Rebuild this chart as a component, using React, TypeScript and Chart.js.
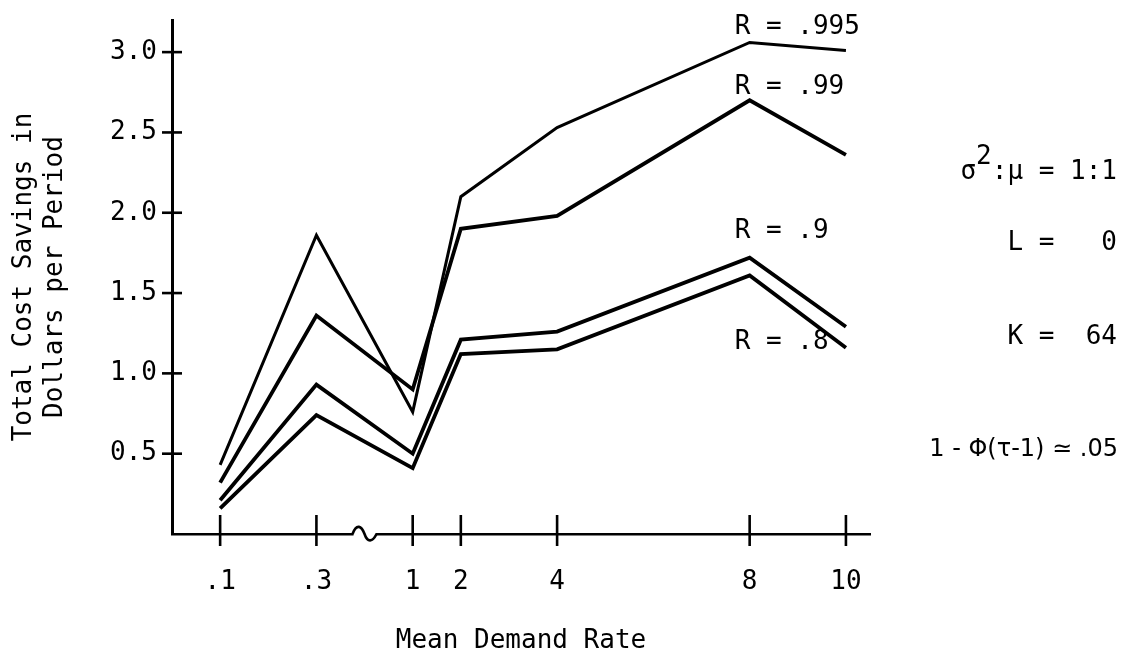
import React, { useEffect, useRef } from 'react';
import { Chart, registerables } from 'chart.js';

Chart.register(...registerables);

// ---- data ----
const demandRates = [0.1, 0.3, 1, 2, 4, 8, 10];
const demandLabels = ['.1', '.3', '1', '2', '4', '8', '10'];
const savingsR995 = [0.43, 1.86, 0.76, 2.10, 2.53, 3.06, 3.01];
const savingsR99 = [0.32, 1.36, 0.90, 1.90, 1.98, 2.70, 2.36];
const savingsR9 = [0.21, 0.93, 0.50, 1.21, 1.26, 1.72, 1.29];
const savingsR8 = [0.16, 0.74, 0.41, 1.12, 1.15, 1.61, 1.16];
const seriesNames = ['R = .995', 'R = .99', 'R = .9', 'R = .8'];
const yTickValues = [0.5, 1.0, 1.5, 2.0, 2.5, 3.0];
const yTickLabels = ['0.5', '1.0', '1.5', '2.0', '2.5', '3.0'];
const yTitle = ['Total Cost Savings in', 'Dollars per Period'];
const xTitle = 'Mean Demand Rate';
const paramLines = ['L =   0', 'K =  64', '1 - \u03A6(\u03C4-1) \u2243 .05'];

const FONT = '"DejaVu Sans Mono", monospace';

// broken axis: rates below 1 sit on their own compressed stretch left of the break
function axisPos(rate: number): number {
  return rate >= 1 ? rate : -3 + (rate - 0.1) * 10;
}

const allSeries = [savingsR995, savingsR99, savingsR9, savingsR8];

const decorPlugin = {
  id: 'decor',
  afterDraw(chart: any) {
    const { ctx, chartArea, scales } = chart;
    const xs = scales.x;
    const ys = scales.y;
    ctx.save();
    ctx.strokeStyle = '#000';
    ctx.fillStyle = '#000';
    ctx.lineWidth = 2.6;
    // crossing tick marks on y axis
    ys.ticks.forEach((t: any) => {
      const py = ys.getPixelForValue(t.value);
      ctx.beginPath();
      ctx.moveTo(chartArea.left - 10, py);
      ctx.lineTo(chartArea.left + 10, py);
      ctx.stroke();
    });
    // crossing tick marks on x axis
    xs.ticks.forEach((t: any) => {
      const px = xs.getPixelForValue(t.value);
      ctx.beginPath();
      ctx.moveTo(px, chartArea.bottom - 19);
      ctx.lineTo(px, chartArea.bottom + 12);
      ctx.stroke();
    });
    // axis break squiggle
    const bx = xs.getPixelForValue(0);
    const by = chartArea.bottom;
    ctx.fillStyle = '#fff';
    ctx.fillRect(bx - 11, by - 3, 22, 6);
    ctx.beginPath();
    ctx.moveTo(bx - 12, by);
    ctx.bezierCurveTo(bx - 8, by - 11, bx - 3, by - 8, bx, by);
    ctx.bezierCurveTo(bx + 3, by + 9, bx + 8, by + 8, bx + 12, by);
    ctx.lineWidth = 2.6;
    ctx.stroke();

    // series labels
    ctx.fillStyle = '#000';
    ctx.font = `26px ${FONT}`;
    ctx.textBaseline = 'middle';
    ctx.textAlign = 'left';
    const lx = xs.getPixelForValue(8) - 15;
    const labelVals = [3.157, 2.78, 1.887, 1.195];
    seriesNames.forEach((n, i) => {
      ctx.fillText(n, lx, ys.getPixelForValue(labelVals[i]));
    });

    // parameter annotations at the right
    const rx = 1117;
    const cw = ctx.measureText('M').width;
    const sigY = 172;
    ctx.textAlign = 'right';
    ctx.fillText(':\u03BC = 1:1', rx, sigY);
    const rest = ctx.measureText(':\u03BC = 1:1').width;
    ctx.textAlign = 'left';
    ctx.fillText('2', rx - rest - cw, sigY - 15);
    ctx.fillText('\u03C3', rx - rest - 2 * cw, sigY);
    ctx.textAlign = 'right';
    ctx.fillText(paramLines[0], rx, 243);
    ctx.fillText(paramLines[1], rx, 337);
    ctx.font = '24px "DejaVu Sans", sans-serif';
    ctx.fillText(paramLines[2], rx + 1, 450, 192);
    ctx.restore();
  },
};

export default function App() {
  const ref = useRef<HTMLCanvasElement | null>(null);
  useEffect(() => {
    document.body.style.margin = '0';
    const canvas = ref.current;
    if (!canvas) return;
    Chart.defaults.font.family = FONT;
    Chart.defaults.color = '#000';
    const datasets = allSeries.map((vals, i) => ({
      label: seriesNames[i],
      data: vals.map((v, j) => ({ x: axisPos(demandRates[j]), y: v })),
      borderColor: '#000',
      backgroundColor: '#000',
      borderWidth: i === 0 ? 3 : 3.8,
      pointRadius: 0,
      tension: 0,
      fill: false,
      borderJoinStyle: 'miter' as const,
    }));
    const chart = new Chart(canvas, {
      type: 'line',
      data: { datasets },
      options: {
        animation: false,
        responsive: false,
        devicePixelRatio: 1,
        layout: { padding: { top: 20, right: 253, left: 0, bottom: 0 } },
        plugins: { legend: { display: false }, tooltip: { enabled: false } },
        scales: {
          x: {
            type: 'linear',
            min: -4,
            max: 10.5,
            afterBuildTicks: (s: any) => {
              s.ticks = demandRates.map((r) => ({ value: axisPos(r) }));
            },
            afterFit: (s: any) => {
              s.height = 120;
              s.paddingLeft = 0;
              s.paddingRight = 0;
            },
            ticks: {
              autoSkip: false,
              maxRotation: 0,
              padding: 33,
              font: { size: 26 },
              color: '#000',
              callback: (_v: any, i: number) => demandLabels[i],
            },
            grid: { display: false, drawTicks: false },
            border: { display: true, color: '#000', width: 2.6 },
            title: {
              display: true,
              text: xTitle,
              font: { size: 26, lineHeight: 1 },
              padding: { top: 0, bottom: 0 },
              color: '#000',
            },
          },
          y: {
            type: 'linear',
            min: 0,
            max: 3.2,
            afterBuildTicks: (s: any) => {
              s.ticks = yTickValues.map((v) => ({ value: v }));
            },
            afterFit: (s: any) => {
              s.width = 172;
              s.paddingTop = 0;
              s.paddingBottom = 0;
            },
            ticks: {
              autoSkip: false,
              padding: 15,
              font: { size: 26 },
              color: '#000',
              callback: (_v: any, i: number) => yTickLabels[i],
            },
            grid: { display: false, drawTicks: false },
            border: { display: true, color: '#000', width: 3 },
            title: {
              display: true,
              text: yTitle,
              font: { size: 26, lineHeight: 31 / 26 },
              padding: { top: 8.5, bottom: 0 },
              color: '#000',
            },
          },
        },
      },
      plugins: [decorPlugin],
    });
    return () => chart.destroy();
  }, []);
  return (
    <canvas
      ref={ref}
      width={1123}
      height={654}
      style={{ display: 'block', width: 1123, height: 654, background: '#fff' }}
    />
  );
}
